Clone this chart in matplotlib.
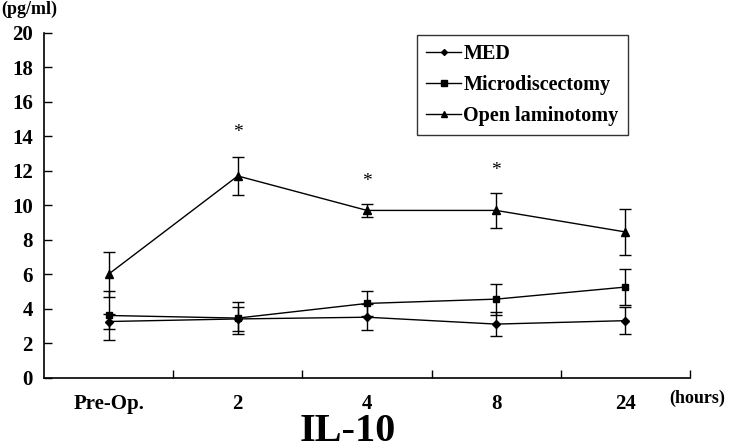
import matplotlib.pyplot as plt
from matplotlib.lines import Line2D
import numpy as np

# Data
categories = ['Pre-Op.', '2', '4', '8', '24']

med_mean = [3.25, 3.4, 3.5, 3.1, 3.3]
med_err = [0.45, 0.7, 0.75, 0.7, 0.8]

micro_mean = [3.6, 3.45, 4.3, 4.55, 5.25]
micro_err = [1.4, 0.95, 0.75, 0.9, 1.05]

open_mean = [6.0, 11.7, 9.7, 9.7, 8.45]
open_err = [1.3, 1.1, 0.37, 1.0, 1.35]

# asterisk positions (category index, y value)
star_idx = [1, 2, 3]
star_y = [14.2, 11.4, 12.0]

series = [
    ('MED', med_mean, med_err, 'D', 4),
    ('Microdiscectomy', micro_mean, micro_err, 's', 5),
    ('Open laminotomy', open_mean, open_err, '^', 6),
]

plt.rcParams['font.family'] = ['Liberation Serif', 'DejaVu Serif']
plt.rcParams['font.weight'] = 'bold'

fig = plt.figure(figsize=(7.3, 4.48), dpi=100)
ax = fig.add_axes([44 / 730, 1 - 377.5 / 448, 646 / 730, 344.5 / 448])

x = np.arange(len(categories)) + 0.5

handles = []
for name, mean, err, mk, ms in series:
    ax.errorbar(x, mean, yerr=err, color='black', marker=mk, markersize=ms,
                linewidth=1, elinewidth=1, capsize=4, capthick=1)
    handles.append(Line2D([], [], color='black', marker=mk, markersize=ms - 1,
                          linewidth=1, label=name))

for i, yv in zip(star_idx, star_y):
    ax.text(x[i], yv, '*', ha='center', va='center', fontsize=14, fontweight='normal')

ax.set_xlim(0, len(categories))
ax.set_ylim(0, 20)
ax.set_yticks(np.arange(0, 21, 2))
ax.set_xticks(np.arange(1, len(categories) + 1))
ax.set_xticklabels([])
ax.set_xticks(x, minor=True)
ax.set_xticklabels(categories, minor=True)
ax.tick_params(axis='x', which='major', direction='in', length=6, width=1)
ax.tick_params(axis='x', which='minor', length=0, pad=12, labelsize=15)
ax.tick_params(axis='y', direction='in', length=6, width=1, labelsize=15, pad=8)

for lab in ax.get_xticklabels(minor=True) + ax.get_yticklabels():
    lab.set_fontweight('bold')

ax.spines['top'].set_visible(False)
ax.spines['right'].set_visible(False)
ax.spines['left'].set_linewidth(1.2)
ax.spines['bottom'].set_linewidth(1.2)

leg = ax.legend(handles=handles, loc='upper left', bbox_to_anchor=(373 / 646, 0.994),
                borderaxespad=0, frameon=True, fancybox=False, edgecolor='black',
                prop={'size': 14.5, 'weight': 'bold'},
                handlelength=1.75, handletextpad=0.1, borderpad=0.45, labelspacing=0.55)
leg.get_frame().set_linewidth(1)

fig.text(1 / 730, 1 - 9 / 448, '(pg/ml)', fontsize=13, fontweight='bold', va='center', ha='left')
fig.text(669 / 730, 1 - 398 / 448, '(hours)', fontsize=13, fontweight='bold', va='center', ha='left')
fig.text(348 / 730, 1 - 431 / 448, 'IL-10', fontsize=29, fontweight='bold', va='center', ha='center')

fig.savefig('out.png', dpi=100)
